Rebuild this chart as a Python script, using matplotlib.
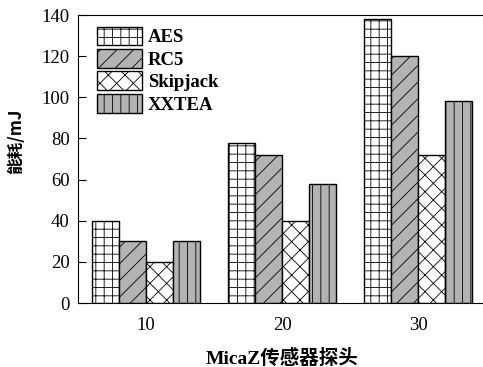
import matplotlib
matplotlib.use("Agg")
import matplotlib.pyplot as plt
import numpy as np

# Energy consumption of cipher algorithms on MicaZ sensor nodes
groups = ["10", "20", "30"]
algorithms = ["AES", "RC5", "Skipjack", "XXTEA"]
aes = [40, 78, 138]
rc5 = [30, 72, 120]
skipjack = [20, 40, 72]
xxtea = [30, 58, 98]
series = [aes, rc5, skipjack, xxtea]

faces = ["white", "#b3b3b3", "white", "#b3b3b3"]
hatches = ["++", "//", "xx", "||"]

plt.rcParams["font.family"] = ["Liberation Serif", "Noto Sans CJK SC"]
plt.rcParams["hatch.linewidth"] = 0.6

fig = plt.figure(figsize=(4.83, 3.67), dpi=100)
ax = fig.add_axes([78 / 483, 1 - 303 / 367, (486 - 78) / 483, (303 - 15) / 367])

x = np.arange(len(groups))
w = 0.2
for i, (vals, name) in enumerate(zip(series, algorithms)):
    ax.bar(x + (i - 1.5) * w, vals, w, color=faces[i], edgecolor="black",
           hatch=hatches[i], linewidth=1.0, label=name)

ax.set_xlim(-0.5, 2.5)
ax.set_ylim(0, 140)
ax.set_yticks(range(0, 141, 20))
ax.set_xticks(x)
ax.set_xticklabels(groups)
ax.tick_params(axis="y", direction="in", length=6, labelsize=13.5, pad=6)
ax.tick_params(axis="x", length=0, labelsize=13.5, pad=10)

ax.set_ylabel("能耗/mJ", fontsize=12, fontweight="bold",
              family=["Noto Sans CJK SC", "DejaVu Sans"])
ax.yaxis.set_label_coords(-0.13, 0.56)
ax.set_xlabel("MicaZ传感器探头", fontsize=14, fontweight="bold",
              family=["Liberation Serif", "Noto Sans CJK SC"], labelpad=11)

leg = ax.legend(loc="upper left", bbox_to_anchor=(0.047, 0.96), frameon=False,
                prop={"family": "Liberation Serif", "weight": "bold", "size": 13.5},
                handlelength=2.4, handleheight=1.15, handletextpad=0.3,
                labelspacing=0.15, borderaxespad=0, borderpad=0)

fig.savefig("out.png", dpi=100)
